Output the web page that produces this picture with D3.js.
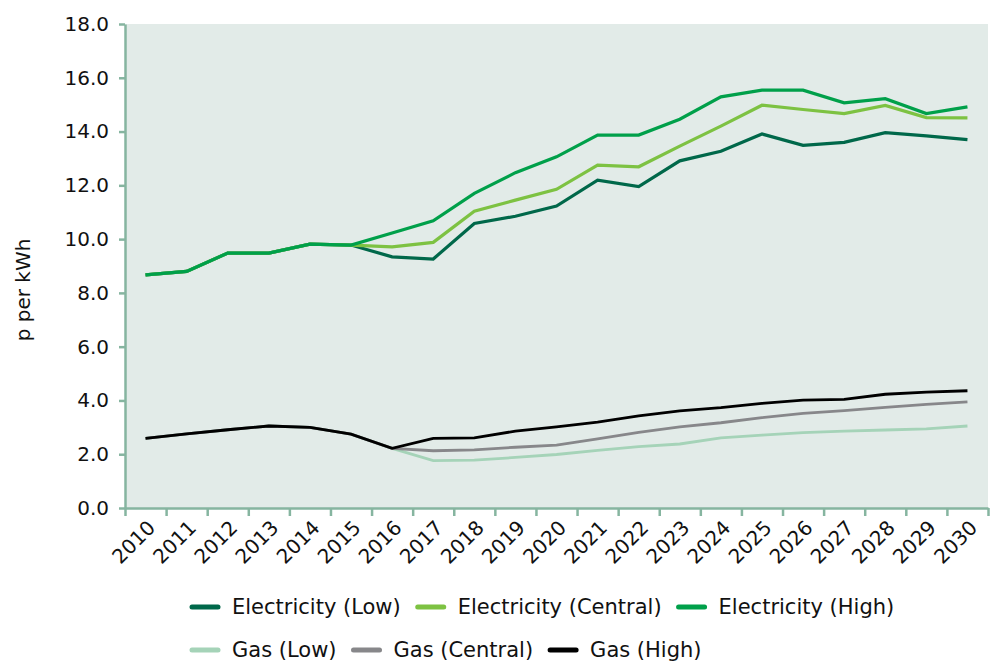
<!DOCTYPE html>
<html>
<head>
<meta charset="utf-8">
<script src="https://cdn.jsdelivr.net/npm/d3@7"></script>
<style>
  html, body { margin: 0; padding: 0; background: #ffffff; }
  svg { display: block; }
  text { font-family: "DejaVu Sans", "Open Sans", sans-serif; fill: #111; }
</style>
</head>
<body>
<svg id="chart" width="990" height="662"></svg>
<script>
const years = ["2010","2011","2012","2013","2014","2015","2016","2017","2018","2019","2020",
               "2021","2022","2023","2024","2025","2026","2027","2028","2029","2030"];
const yTicks = [0, 2, 4, 6, 8, 10, 12, 14, 16, 18];

const elecLow     = [8.67, 8.80, 9.48, 9.48, 9.81, 9.78, 9.34, 9.26, 10.58, 10.85, 11.23, 12.19, 11.95, 12.91, 13.27, 13.91, 13.49, 13.60, 13.96, 13.84, 13.70];
const elecCentral = [8.67, 8.80, 9.48, 9.48, 9.81, 9.78, 9.71, 9.88, 11.04, 11.45, 11.85, 12.75, 12.69, 13.46, 14.20, 14.98, 14.82, 14.67, 14.97, 14.52, 14.51];
const elecHigh    = [8.67, 8.80, 9.48, 9.48, 9.81, 9.78, 10.23, 10.68, 11.70, 12.47, 13.06, 13.87, 13.87, 14.46, 15.29, 15.54, 15.54, 15.07, 15.22, 14.67, 14.92];
const gasLow      = [2.59, 2.76, 2.91, 3.05, 3.00, 2.75, 2.22, 1.76, 1.78, 1.88, 1.99, 2.14, 2.28, 2.38, 2.61, 2.71, 2.80, 2.86, 2.90, 2.94, 3.05];
const gasCentral  = [2.59, 2.76, 2.91, 3.05, 3.00, 2.75, 2.22, 2.13, 2.16, 2.26, 2.34, 2.57, 2.81, 3.02, 3.17, 3.36, 3.52, 3.62, 3.74, 3.85, 3.95];
const gasHigh     = [2.59, 2.76, 2.91, 3.05, 3.00, 2.75, 2.22, 2.59, 2.61, 2.86, 3.02, 3.19, 3.43, 3.61, 3.73, 3.89, 4.01, 4.04, 4.23, 4.31, 4.36];

const seriesNames = ["Electricity (Low)", "Electricity (Central)", "Electricity (High)", "Gas (Low)", "Gas (Central)", "Gas (High)"];
const seriesColors = ["#00684a", "#7dc242", "#00a04a", "#a5d3b8", "#87878a", "#000000"];
const seriesData = [elecLow, elecCentral, elecHigh, gasLow, gasCentral, gasHigh];

const svg = d3.select("#chart");
const L = 125, R = 988, T = 24, B = 508;
const axisColor = "#86b5a0";

const x = d3.scaleBand().domain(years).range([L, R]).padding(0);
const xi = d3.scaleLinear().domain([0, years.length]).range([L, R]);
const y = d3.scaleLinear().domain([0, 18]).range([B, T]);

// plot background
svg.append("rect").attr("x", L).attr("y", T).attr("width", R - L).attr("height", B - T).attr("fill", "#e2ebe8");

// y axis
const gy = svg.append("g").attr("transform", `translate(${L},0)`)
  .call(d3.axisLeft(y).tickValues(yTicks).tickFormat(d3.format(".1f")).tickSize(6).tickPadding(10).tickSizeOuter(0));
gy.select(".domain").attr("stroke", axisColor).attr("stroke-width", 2.5);
gy.selectAll(".tick line").attr("stroke", axisColor).attr("stroke-width", 2.5);
gy.selectAll(".tick text").attr("font-size", 20).attr("fill", "#111").style("font-family", "'DejaVu Sans', sans-serif");

// x axis (ticks at category boundaries)
const gx = svg.append("g").attr("transform", `translate(0,${B})`)
  .call(d3.axisBottom(xi).tickValues(d3.range(years.length + 1)).tickFormat("").tickSize(8).tickSizeOuter(0));
gx.select(".domain").attr("stroke", axisColor).attr("stroke-width", 2.5);
gx.selectAll(".tick line").attr("stroke", axisColor).attr("stroke-width", 2.5);

// x labels
svg.append("g").selectAll("text").data(years).join("text")
  .attr("transform", d => `translate(${x(d) + x.bandwidth() / 2 + 6},${B + 16}) rotate(-45)`)
  .attr("text-anchor", "end")
  .attr("dy", "0.35em")
  .attr("font-size", 20)
  .text(d => d);

// y label
svg.append("text")
  .attr("transform", `translate(30,${(T + B) / 2 + 24}) rotate(-90)`)
  .attr("text-anchor", "middle")
  .attr("font-size", 20)
  .text("p per kWh");

// lines
const line = d3.line()
  .x((d, i) => x(years[i]) + x.bandwidth() / 2)
  .y(d => y(d));

const drawOrder = [3, 4, 5, 0, 1, 2];
drawOrder.forEach(k => {
  svg.append("path")
    .datum(seriesData[k])
    .attr("fill", "none")
    .attr("stroke", seriesColors[k])
    .attr("stroke-width", k < 3 ? 3.2 : 2.8)
    .attr("stroke-linejoin", "miter")
    .attr("d", line);
});

// legend
const rows = [[0, 1, 2], [3, 4, 5]];
const rowY = [607, 650];
rows.forEach((row, r) => {
  let cx = 190;
  row.forEach(k => {
    const g = svg.append("g");
    g.append("line")
      .attr("x1", cx + 2).attr("x2", cx + 28)
      .attr("y1", rowY[r]).attr("y2", rowY[r])
      .attr("stroke", seriesColors[k]).attr("stroke-width", 5).attr("stroke-linecap", "round");
    const t = g.append("text")
      .attr("x", cx + 42).attr("y", rowY[r])
      .attr("dy", "0.35em")
      .attr("font-size", 21)
      .text(seriesNames[k]);
    const w = t.node().getComputedTextLength();
    cx = cx + 42 + w + 15;
  });
});
</script>
</body>
</html>
